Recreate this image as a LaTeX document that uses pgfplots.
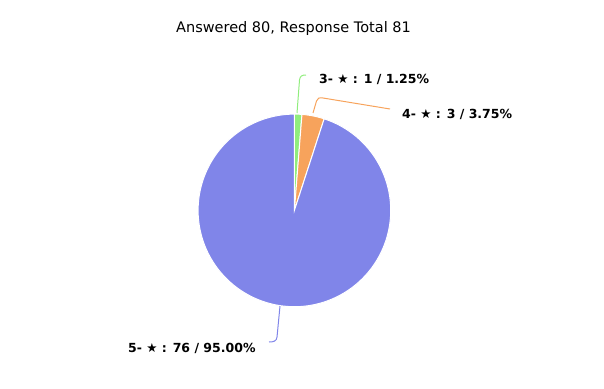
\documentclass[border=0pt]{standalone}
\usepackage{pgfplots}
\pgfplotsset{compat=1.18}
\usepackage{pgfplotstable}
\usepackage{fontspec}
\setmainfont{DejaVu Sans}
\definecolor{c3}{HTML}{90ED7D}
\definecolor{c4}{HTML}{F7A35C}
\definecolor{c5}{HTML}{8085E9}
\pgfplotstableread{
star count pct
3 1 1.25
4 3 3.75
5 76 95.00
}\piedata
\begin{document}
\begin{tikzpicture}
\pgfplotstablegetelem{0}{count}\of\piedata \let\va\pgfplotsretval
\pgfplotstablegetelem{1}{count}\of\piedata \let\vb\pgfplotsretval
\pgfplotstablegetelem{2}{count}\of\piedata \let\vc\pgfplotsretval
\pgfmathsetmacro{\tot}{\va+\vb+\vc}
\pgfmathsetmacro{\aA}{90}
\pgfmathsetmacro{\aB}{90-360*(\va/\tot)}
\pgfmathsetmacro{\aC}{\aB-360*(\vb/\tot)}
\pgfmathsetmacro{\aD}{\aC-360*(\vc/\tot)}
\begin{axis}[
  width=604bp, height=389bp, scale only axis,
  xmin=0, xmax=604, ymin=0, ymax=389, y dir=reverse,
  hide axis, clip=false,
]
\coordinate (BB1) at (axis cs:0,0);
\coordinate (BB2) at (axis cs:604,389);
\addplot[fill=c3, draw=white, line width=1bp, domain=\aB:\aA, samples=10]
  ({294.4+96.3*cos(x)},{210.4-96.3*sin(x)}) -- (axis cs:294.4,210.4) -- cycle;
\addplot[fill=c4, draw=white, line width=1bp, domain=\aC:\aB, samples=20]
  ({294.4+96.3*cos(x)},{210.4-96.3*sin(x)}) -- (axis cs:294.4,210.4) -- cycle;
\addplot[fill=c5, draw=white, line width=1bp, domain=\aD:\aC, samples=200]
  ({294.4+96.3*cos(x)},{210.4-96.3*sin(x)}) -- (axis cs:294.4,210.4) -- cycle;
% connectors
\draw[c3, line width=1bp] (axis cs:297,113) -- (axis cs:299.5,80) .. controls (axis cs:300,76) and (axis cs:302,75) .. (axis cs:306,75);
\draw[c4, line width=1bp] (axis cs:313,113) -- (axis cs:316.5,101) .. controls (axis cs:317.5,98) and (axis cs:319,97.5) .. (axis cs:323,98) -- (axis cs:390,109);
\draw[c5, line width=1bp] (axis cs:280,306) -- (axis cs:277,337) .. controls (axis cs:276.5,341) and (axis cs:274,342) .. (axis cs:269,342);
% labels
\node[anchor=west, inner sep=0pt, font=\fontsize{12.5bp}{14bp}\selectfont\bfseries] at (axis cs:319,79) {3- ★ : 1 / 1.25\%};
\node[anchor=west, inner sep=0pt, font=\fontsize{12.5bp}{14bp}\selectfont\bfseries] at (axis cs:402,114) {4- ★ : 3 / 3.75\%};
\node[anchor=west, inner sep=0pt, font=\fontsize{12.5bp}{14bp}\selectfont\bfseries] at (axis cs:128,348) {5- ★ : 76 / 95.00\%};
% title
\node[inner sep=0pt, font=\fontsize{14.5bp}{16bp}\selectfont] at (axis cs:293.5,28) {Answered 80, Response Total 81};
\end{axis}
\pgfresetboundingbox
\path (BB1) rectangle (BB2);
\end{tikzpicture}
\end{document}
